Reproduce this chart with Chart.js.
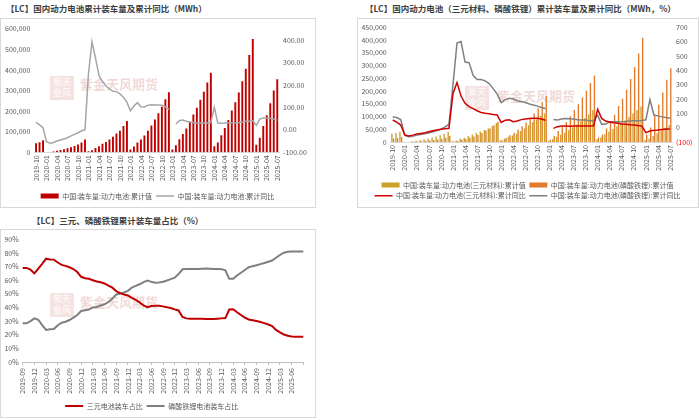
<!DOCTYPE html>
<html>
<head>
<meta charset="utf-8">
<script src="https://cdn.jsdelivr.net/npm/chart.js@4.4.1/dist/chart.umd.min.js"></script>
<style>
  body { margin: 0; width: 700px; height: 418px; background: #fff; position: relative; overflow: hidden;
         font-family: 'Noto Sans CJK SC', sans-serif; }
  .title { position: absolute; font-weight: bold; font-size: 8.5px; line-height: 12px; color: #404040; white-space: nowrap; }
  .box { position: absolute; border: 1px solid #d9d9d9; box-sizing: border-box; }
  canvas { position: absolute; }
  .wm { position: absolute; color: rgba(192, 80, 77, 0.22); font-size: 13px; font-weight: bold; white-space: nowrap; }
  .logo { position: absolute; width: 24px; height: 24px; background: rgba(192, 80, 77, 0.16);
          color: rgba(255,255,255,0.9); font-size: 9px; line-height: 11px; text-align: center; }
</style>
</head>
<body>
<div class="title" style="left:6px;top:2px;">【LC】国内动力电池累计装车量及累计同比（MWh）</div>
<div class="title" style="left:365px;top:2px;">【LC】国内动力电池（三元材料、磷酸铁锂）累计装车量及累计同比（MWh，%）</div>
<div class="title" style="left:32px;top:214px;">【LC】三元、磷酸铁锂累计装车量占比（%）</div>

<div class="box" style="left:0;top:18px;width:316px;height:190px;"></div>
<div class="box" style="left:357px;top:18px;width:342px;height:190px;"></div>
<div class="box" style="left:0;top:229px;width:316px;height:189px;"></div>

<!-- watermarks -->
<div class="logo" style="left:50px;top:76px;">紫天<br>金风</div>
<div class="wm" style="left:80px;top:74px;">紫金天风期货</div>
<div class="logo" style="left:465px;top:86px;">紫天<br>金风</div>
<div class="wm" style="left:497px;top:86px;">紫金天风期货</div>
<div class="logo" style="left:50px;top:293px;">紫天<br>金风</div>
<div class="wm" style="left:80px;top:292px;">紫金天风期货</div>

<canvas id="c1" width="315" height="195" style="left:0;top:19px;"></canvas>
<canvas id="c2" width="341" height="195" style="left:357px;top:19px;"></canvas>
<canvas id="c3" width="315" height="190" style="left:0;top:230px;"></canvas>

<script>
// month labels
function monthRange(y, m, n) {
  const out = [];
  for (let i = 0; i < n; i++) {
    const mm = (m - 1 + i) % 12 + 1;
    const yy = y + Math.floor((m - 1 + i) / 12);
    out.push(yy + '-' + String(mm).padStart(2, '0'));
  }
  return out;
}
const months = monthRange(2019, 10, 70);       // 2019-10 .. 2025-07
const shareMonths = monthRange(2019, 9, 73);   // 2019-09 .. 2025-09

// Chart 1: total power battery installs (MWh) + cumulative YoY (%)
const totalCum = [
  44000, 49000, 58000,
  null, null, 4000, 7000, 11000, 15000, 20000, 25000, 31000, 38000, 48000, 62000,
  5000, 10000, 21000, 29000, 41000, 50000, 62000, 75000, 91000, 105000, 128000, 152000,
  13000, 28000, 47000, 62000, 81000, 105000, 130000, 159000, 190000, 221000, 258000, 292000,
  13000, 34000, 63000, 89000, 115000, 148000, 183000, 216000, 255000, 294000, 339000, 386000,
  29000, 47000, 83000, 118000, 157000, 203000, 243000, 290000, 345000, 406000, 472000, 550000,
  37000, 71000, 128000, 180000, 238000, 300000, 355000
];
const totalYoY = [
  33, 22, 10,
  -53, -60, -56, -50, -45, -41, -35, -27, -20, -13, -5, 1,
  250, 392, 320, 242, 215, 195, 182, 172, 170, 160, 145, 122,
  85, 106, 121, 103, 102, 110, 112, 110, 110, 109, 102, 91,
  null, 26, 41, 44, 38, 35, 33, 30, 30, 30, 30, 32,
  100, 30, 29, 30, 32, 32, 32, 33, 35, 38, 38, 41,
  20, 48, 53, 53, 51, 47, 42
];

// Chart 2: NCM / LFP cumulative installs (MWh) + cumulative YoY (%)
const ncmCum = [
  32000, 35000, 40000,
  null, null, 3000, 5000, 8000, 11000, 14000, 18000, 22000, 26000, 32000, 39000,
  3000, 6000, 12600, 17000, 24000, 29000, 35000, 41000, 47000, 53000, 63000, 74000,
  6000, 12700, 20500, 25700, 32600, 43000, 53700, 65500, 77500, 88800, 102000, 112000,
  4300, 11200, 20200, 28300, 36600, 47100, 58000, 68300, 80300, 92900, 107800, 125000,
  11000, 18000, 30000, 40000, 50000, 62000, 73000, 85000, 98000, 112000, 125000, 139000,
  7500, 14000, 24000, 34000, 44000, 56000, 66000
];
const lfpCum = [
  14000, 16000, 20000,
  null, null, 1000, 1700, 2700, 4000, 5800, 7400, 9500, 12400, 16600, 23200,
  1900, 3900, 8400, 11700, 17000, 21200, 27300, 34900, 45000, 52700, 65300, 79300,
  7100, 15600, 26800, 36300, 48400, 61700, 75700, 92700, 111900, 132200, 156900, 180500,
  8700, 23100, 43000, 60700, 78500, 101100, 125200, 148000, 174400, 200800, 231200, 261000,
  18000, 29000, 53000, 78000, 107000, 141000, 170000, 205000, 247000, 294000, 347000, 409000,
  29500, 57000, 104000, 146000, 194000, 244000, 289000
];
const ncmYoY = [
  53, 39, 18,
  -51, -58, -52, -45, -40, -35, -28, -21, -16, -11, -7, -4,
  238, 314, 220, 170, 147, 132, 118, 106, 100, 97, 92, 88,
  36, 52, 55, 42, 46, 56, 60, 63, 65, 65, 60, 52,
  null, -5, 7, 11, 11, 10, 11, 11, 11, 11, 12, 13,
  127, 64, 46, 40, 34, 30, 26, 23, 20, 18, 15, 11,
  -35, -24, -19, -17, -13, -10, -10
];
const lfpYoY = [
  75, 71, 57,
  -54, -63, -60, -52, -47, -42, -36, -28, -20, -10, 5, 22,
  300, 590, 600, 457, 453, 365, 335, 335, 326, 307, 272, 234,
  175, 195, 205, 200, 188, 182, 175, 165, 158, 150, 140, 134,
  null, 57, 53, 60, 64, 62, 60, 55, 53, 53, 48, 48,
  87, 23, 25, 41, 41, 41, 41, 43, 46, 48, 48, 50,
  55, 195, 88, 82, 75, 70, 66
];

// Chart 3: cumulative share (%)
const ncmShare = [
  69.0, 69.0, 67.7, 65.0, 68.5, 72.0, 75.8, 75.2, 75.1, 73.0, 71.2, 70.5,
  69.5, 68.2, 66.0, 62.5, 61.5, 61.0, 60.0, 59.0, 58.5, 57.6, 56.0, 54.5,
  52.0, 50.5, 49.5, 48.8, 47.0, 45.5, 43.7, 41.5, 40.2, 41.0, 41.3, 41.2,
  40.8, 40.2, 39.6, 38.6, 37.8, 33.0, 32.0, 31.8, 31.8, 31.8, 31.7, 31.6,
  31.5, 31.6, 31.8, 32.0, 32.2, 38.5, 38.7, 36.5, 34.5, 32.5, 31.2, 30.6,
  30.0, 29.3, 28.5, 27.5, 26.3, 23.5, 21.8, 20.2, 19.3, 18.7, 18.6, 18.6,
  18.6
];
const lfpShare = [
  28.4, 28.4, 30.0, 32.0, 31.0, 27.0, 23.5, 24.0, 24.2, 27.0, 28.8, 29.5,
  30.8, 32.5, 34.5, 37.4, 38.0, 38.5, 40.0, 40.4, 41.5, 42.3, 44.0, 46.5,
  49.5, 50.2, 51.0, 52.2, 54.5, 55.8, 57.0, 58.6, 59.7, 58.8, 58.2, 58.3,
  58.9, 59.8, 60.8, 61.8, 64.5, 68.0, 68.2, 68.2, 68.3, 68.3, 68.4, 68.5,
  68.4, 68.3, 68.2, 68.1, 67.3, 61.0, 61.0, 63.5, 65.5, 67.5, 69.5, 70.3,
  71.0, 71.8, 72.6, 73.5, 74.4, 76.5, 78.5, 80.2, 80.9, 81.0, 81.0, 81.0,
  81.0
];

// shared styles
const FONT = { family: "'Noto Sans CJK SC', sans-serif", size: 7 };
const TICK_COLOR = '#595959';
const NO_GRID = { display: false, drawTicks: false };
const bySet = (a, b) => a.datasetIndex - b.datasetIndex;

function legendOpts(pad) {
  return {
    position: 'bottom',
    labels: {
      usePointStyle: true, pointStyleWidth: 18, boxHeight: 5,
      font: FONT, color: TICK_COLOR, padding: pad, sort: bySet
    }
  };
}

function monthAxis(labels, height, every, skipLast) {
  return {
    grid: NO_GRID,
    border: { color: '#d9d9d9' },
    ticks: {
      autoSkip: false, minRotation: 90, maxRotation: 90, font: FONT, color: TICK_COLOR, padding: 3,
      callback: (v, i) => (i % every === 0 && !(skipLast && i === labels.length - 1)) ? labels[i] : ''
    },
    afterFit: s => { s.height = height; }
  };
}

function valueAxis(pos, min, max, step, width, fmt, color) {
  return {
    position: pos, min: min, max: max, grid: NO_GRID, border: { display: false },
    ticks: { stepSize: step, font: FONT, color: color || TICK_COLOR, padding: 4, callback: fmt },
    afterFit: s => { s.width = width; }
  };
}

// Chart 1
new Chart(document.getElementById('c1'), {
  data: {
    labels: months,
    datasets: [
      { type: 'bar', label: '中国:装车量:动力电池:累计值', data: totalCum, backgroundColor: '#c00000',
        yAxisID: 'y', order: 2, barPercentage: 0.55, categoryPercentage: 1, pointStyle: 'rect' },
      { type: 'line', label: '中国:装车量:动力电池:累计同比', data: totalYoY, borderColor: '#a6a6a6',
        backgroundColor: '#a6a6a6', borderWidth: 1.5, pointRadius: 0, yAxisID: 'y1', order: 1, pointStyle: 'line' }
    ]
  },
  options: {
    responsive: false, animation: false,
    layout: { padding: { top: 9.7, bottom: 4.5, left: 0, right: 0 } },
    plugins: { legend: legendOpts(4), tooltip: { enabled: false } },
    scales: {
      x: monthAxis(months, 36.2, 3, false),
      y: valueAxis('left', 0, 600000, 100000, 34.3, v => v.toLocaleString('en-US')),
      y1: valueAxis('right', -100, 450, 50, 36, v => v.toFixed(2))
    }
  }
});

// Chart 2
new Chart(document.getElementById('c2'), {
  data: {
    labels: months,
    datasets: [
      { type: 'bar', label: '中国:装车量:动力电池(三元材料):累计值', data: ncmCum, backgroundColor: '#c9a227',
        yAxisID: 'y', order: 2, barPercentage: 0.85, categoryPercentage: 0.8, pointStyle: 'rect' },
      { type: 'bar', label: '中国:装车量:动力电池(磷酸铁锂):累计值', data: lfpCum, backgroundColor: '#e37b2d',
        yAxisID: 'y', order: 2, barPercentage: 0.85, categoryPercentage: 0.8, pointStyle: 'rect' },
      { type: 'line', label: '中国:装车量:动力电池(三元材料):累计同比', data: ncmYoY, borderColor: '#d00000',
        backgroundColor: '#d00000', borderWidth: 1.5, pointRadius: 0, yAxisID: 'y1', order: 1, pointStyle: 'line' },
      { type: 'line', label: '中国:装车量:动力电池(磷酸铁锂):累计同比', data: lfpYoY, borderColor: '#808080',
        backgroundColor: '#808080', borderWidth: 1.5, pointRadius: 0, yAxisID: 'y1', order: 1, pointStyle: 'line' }
    ]
  },
  options: {
    responsive: false, animation: false,
    layout: { padding: { top: 7.7, bottom: 4.8, left: 0, right: 0 } },
    plugins: { legend: legendOpts(3.7), tooltip: { enabled: false } },
    scales: {
      x: monthAxis(months, 35.8, 3, false),
      y: valueAxis('left', 0, 450000, 50000, 33.7, v => v.toLocaleString('en-US')),
      y1: valueAxis('right', -100, 700, 100, 26, v => v < 0 ? '(' + Math.abs(v) + ')' : String(v),
                    c => (c.tick && c.tick.value < 0) ? '#ff0000' : TICK_COLOR)
    }
  }
});

// Chart 3
const shareX = monthAxis(shareMonths, 36.5, 3, true);
shareX.grid = { display: true, drawOnChartArea: false, drawTicks: true, tickLength: 3,
                color: c => (c.index % 3 === 0 ? '#bfbfbf' : 'rgba(0,0,0,0)') };
shareX.border = { color: '#bfbfbf' };

new Chart(document.getElementById('c3'), {
  type: 'line',
  data: {
    labels: shareMonths,
    datasets: [
      { label: '三元电池装车占比', data: ncmShare, borderColor: '#c00000', backgroundColor: '#c00000',
        borderWidth: 2, pointRadius: 0, pointStyle: 'line' },
      { label: '磷酸铁锂电池装车占比', data: lfpShare, borderColor: '#7f7f7f', backgroundColor: '#7f7f7f',
        borderWidth: 2, pointRadius: 0, pointStyle: 'line' }
    ]
  },
  options: {
    responsive: false, animation: false,
    layout: { padding: { top: 9.3, bottom: 0.5, left: 0, right: 11.7 } },
    plugins: { legend: legendOpts(4), tooltip: { enabled: false } },
    scales: {
      x: shareX,
      y: valueAxis('left', 0, 90, 10, 22.7, v => v + '%')
    }
  }
});
</script>
</body>
</html>
